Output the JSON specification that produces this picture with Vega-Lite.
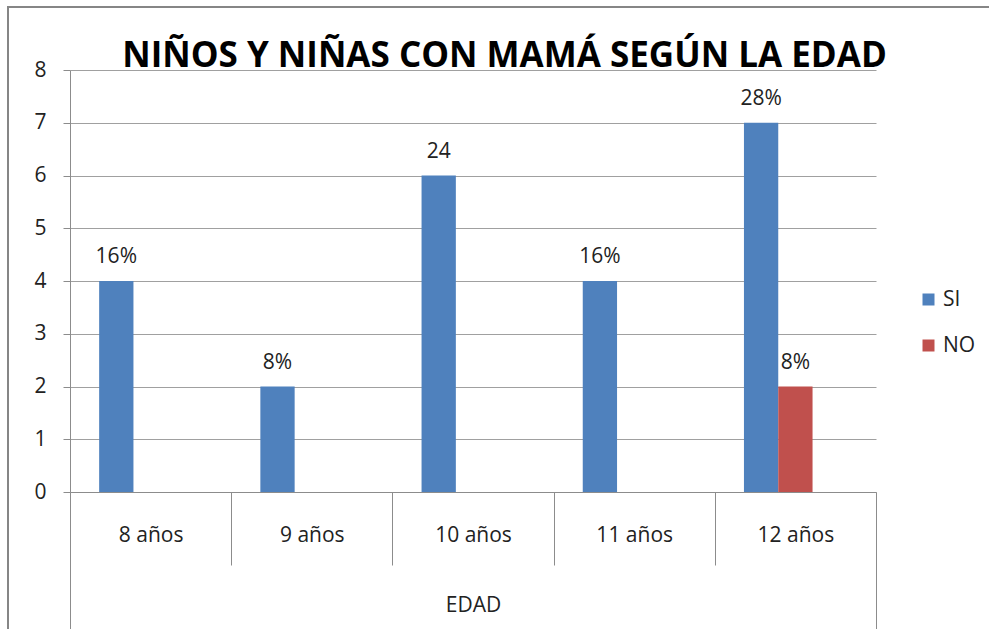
{
  "$schema": "https://vega.github.io/schema/vega-lite/v6.json",
  "width": 981,
  "height": 622,
  "autosize": {"type": "none"},
  "padding": {"left": 8, "top": 7, "right": 0, "bottom": 0},
  "background": "white",
  "config": {
    "view": {"stroke": "#868686", "strokeWidth": 2, "strokeDash": [981, 1603, 622]},
    "font": "Open Sans"
  },
  "title": {
    "text": "NIÑOS Y NIÑAS CON MAMÁ SEGÚN LA EDAD",
    "font": "Open Sans",
    "fontSize": 35,
    "fontWeight": "bold",
    "color": "#000000",
    "anchor": "middle",
    "offset": -67,
    "dx": 6
  },
  "data": {
    "values": [
      {"edad": "8 años", "serie": "SI", "valor": 4, "etiqueta": "16%"},
      {"edad": "9 años", "serie": "SI", "valor": 2, "etiqueta": "8%"},
      {"edad": "10 años", "serie": "SI", "valor": 6, "etiqueta": "24"},
      {"edad": "11 años", "serie": "SI", "valor": 4, "etiqueta": "16%"},
      {"edad": "12 años", "serie": "SI", "valor": 7, "etiqueta": "28%"},
      {"edad": "12 años", "serie": "NO", "valor": 2, "etiqueta": "8%"}
    ]
  },
  "encoding": {
    "x": {
      "field": "edad",
      "type": "nominal",
      "sort": ["8 años", "9 años", "10 años", "11 años", "12 años"],
      "scale": {"range": [62, 868], "paddingInner": 0, "paddingOuter": 0},
      "axis": {
        "orient": "bottom",
        "offset": -137,
        "tickBand": "extent",
        "tickSize": {"condition": {"test": "datum.extra || datum.value === '12 años'", "value": 137}, "value": 73},
        "labelAngle": 0,
        "labelPadding": {"condition": {"test": "datum.value === '12 años'", "value": -105}, "value": -41},
        "labelFontSize": 21,
        "labelColor": "#222222",
        "labelFont": "Open Sans",
        "domainColor": "#8c8c8c",
        "tickColor": "#8c8c8c",
        "title": "EDAD",
        "titleFont": "Open Sans",
        "titleFontSize": 21,
        "titleFontWeight": "normal",
        "titleColor": "#222222",
        "titleY": 113,
        "titleBaseline": "middle"
      }
    },
    "xOffset": {
      "field": "serie",
      "scale": {"domain": ["SI", "NO", "-"], "paddingOuter": 0.85, "paddingInner": 0}
    },
    "y": {
      "field": "valor",
      "type": "quantitative",
      "scale": {"domain": [0, 8], "range": [485, 63], "nice": false},
      "axis": {
        "orient": "left",
        "offset": -62,
        "values": [0, 1, 2, 3, 4, 5, 6, 7, 8],
        "title": null,
        "grid": true,
        "gridColor": "#a0a0a0",
        "domainColor": "#8c8c8c",
        "tickColor": "#8c8c8c",
        "tickSize": 7,
        "labelPadding": 17,
        "labelFontSize": 21,
        "labelFont": "Open Sans",
        "labelColor": "#222222"
      }
    }
  },
  "layer": [
    {
      "mark": {"type": "bar"},
      "encoding": {
        "color": {
          "field": "serie",
          "type": "nominal",
          "scale": {"domain": ["SI", "NO"], "range": ["#4F81BD", "#C0504D"]},
          "legend": {
            "orient": "none",
            "legendX": 910,
            "legendY": 282,
            "title": null,
            "padding": 0,
            "symbolType": "square",
            "symbolSize": 144,
            "symbolStrokeWidth": 0,
            "labelFontSize": 21,
            "labelFont": "Open Sans",
            "labelColor": "#222222",
            "labelOffset": 4,
            "rowPadding": 24
          }
        }
      }
    },
    {
      "mark": {"type": "text", "baseline": "alphabetic", "dy": -18, "fontSize": 21, "font": "Open Sans", "color": "#222222"},
      "encoding": {"text": {"field": "etiqueta"}}
    }
  ]
}
